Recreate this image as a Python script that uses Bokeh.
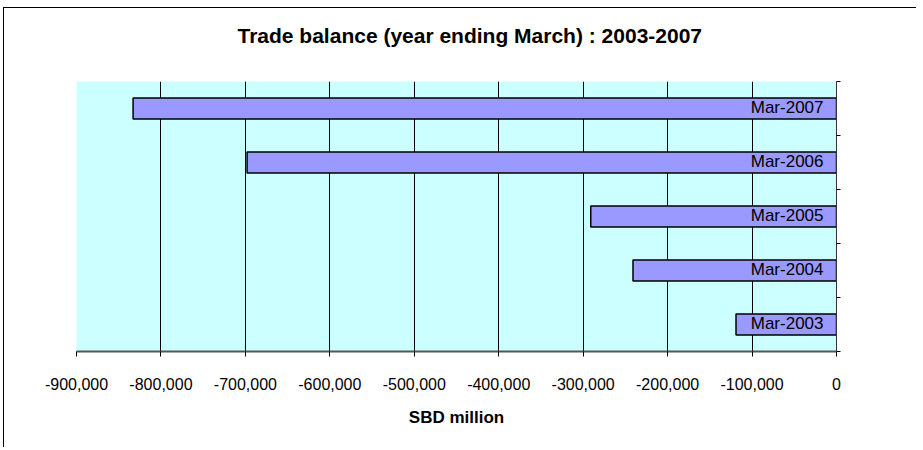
from bokeh.plotting import figure
from bokeh.models import FixedTicker, NumeralTickFormatter, ColumnDataSource, Title
from bokeh.core.properties import value
from bokeh.embed import file_html
from bokeh.resources import INLINE

# Data
categories = ["Mar-2003", "Mar-2004", "Mar-2005", "Mar-2006", "Mar-2007"]
trade_balance = [-119000, -241000, -291000, -698000, -833000]
x_ticks = [-900000, -800000, -700000, -600000, -500000, -400000, -300000, -200000, -100000, 0]
title_text = "Trade balance (year ending March) : 2003-2007"

FONT = "Liberation Sans"

ypos = [i + 0.5 for i in range(len(categories))]
src = ColumnDataSource(dict(y=ypos, left=trade_balance, right=[0] * len(categories), label=categories))

p = figure(
    output_backend="svg", toolbar_location=None,
    frame_width=760, frame_height=270,
    min_border_left=72, min_border_right=80, min_border_top=73, min_border_bottom=96,
    x_range=(x_ticks[0], x_ticks[-1]), y_range=(0, len(categories)),
    y_axis_location="right",
)
p.styles = {"border-top": "1px solid black", "border-left": "1px solid black",
            "margin-left": "3px", "margin-top": "7px"}

# spacer between title and plot area (closest to the frame)
p.add_layout(Title(text=" ", text_font_size="2px", standoff=26), "above")
p.add_layout(Title(text=title_text, align="left", offset=161, standoff=10,
                   text_font=FONT, text_font_size="21px", text_font_style="bold",
                   text_color="black"), "above")

p.background_fill_color = "#CCFFFF"
p.border_fill_color = "white"
p.outline_line_color = None

p.hbar(y="y", left="left", right="right", height=0.39, source=src,
       fill_color="#9999FF", line_color="black", line_width=1.5)

p.text(x=0, y="y", text="label", source=src, text_align="right", text_baseline="middle",
       x_offset=-13, y_offset=-1, text_font=value(FONT), text_font_size="17px", text_color="black")

# x axis
xa = p.xaxis[0]
xa.ticker = FixedTicker(ticks=x_ticks)
xa.formatter = NumeralTickFormatter(format="0,0")
xa.axis_label = "SBD million"
xa.axis_label_text_font = FONT
xa.axis_label_text_font_size = "17px"
xa.axis_label_text_font_style = "bold"
xa.axis_label_text_color = "black"
xa.axis_label_standoff = 15
xa.major_label_text_font = FONT
xa.major_label_text_font_size = "16px"
xa.major_label_text_color = "black"
xa.major_label_standoff = 21
xa.major_tick_in = 0
xa.major_tick_out = 5
xa.major_tick_line_color = "black"
xa.minor_tick_line_color = None
xa.axis_line_color = "#555555"
xa.axis_line_width = 2

# y axis (right side, category separators only)
ya = p.yaxis[0]
ya.ticker = FixedTicker(ticks=list(range(len(categories) + 1)))
ya.major_label_overrides = {i: "" for i in range(len(categories) + 1)}
ya.major_tick_in = 0
ya.major_tick_out = 4
ya.major_tick_line_color = "black"
ya.minor_tick_line_color = None
ya.axis_line_color = "#333333"

p.xgrid.ticker = FixedTicker(ticks=x_ticks[1:-1])
p.xgrid.grid_line_color = "black"
p.xgrid.grid_line_width = 1
p.ygrid.grid_line_color = None

open("out.html", "w").write(file_html(p, INLINE))
